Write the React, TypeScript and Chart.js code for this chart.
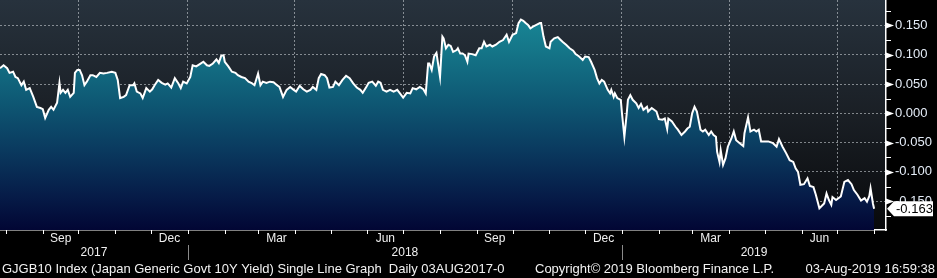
import React, { useEffect, useRef } from "react";
import { Chart, registerables } from "chart.js";
Chart.register(...registerables);

// ---- Data: days since 2018-01-01, and GJGB10 yield (%) ----
const dayOffsets = [
  -158, -155, -152, -150, -147, -145, -143, -140, -138, -136,
  -133, -130, -127, -124, -122, -120, -117, -115, -113, -110,
  -108, -107, -105, -103, -101, -99, -96, -95, -93, -91,
  -89, -87, -85, -82, -80, -77, -74, -71, -68, -64,
  -61, -59, -57, -54, -52, -49, -46, -45, -43, -40,
  -38, -35, -32, -30, -28, -25, -22, -19, -17, -14,
  -11, -8, -6, -4, -1, 2, 4, 7, 10, 13,
  16, 18, 21, 24, 26, 28, 30, 31, 34, 37,
  40, 42, 45, 48, 51, 54, 56, 59, 61, 63,
  66, 69, 72, 75, 77, 80, 83, 86, 89, 91,
  94, 97, 100, 103, 105, 108, 110, 112, 115, 117,
  119, 122, 124, 127, 130, 133, 136, 139, 142, 145,
  147, 150, 152, 155, 158, 160, 162, 164, 167, 170,
  173, 176, 178, 181, 184, 187, 189, 192, 195, 198,
  200, 202, 203, 205, 207, 209, 212, 214, 215,
  217, 219, 221, 223, 226, 227, 229, 231, 233, 235,
  236, 239, 242, 245, 247, 249, 251, 254, 256, 259,
  262, 265, 268, 270, 273, 276, 278, 280, 282, 284,
  286, 288, 291, 293, 296, 297, 299, 301, 304, 305,
  308, 311, 313, 315, 318, 321, 324, 326, 329, 332,
  334, 337, 339, 342, 344, 346, 348, 350, 353, 355,
  356, 358, 359, 361, 364, 365, 367, 369, 370, 372,
  374, 377, 379, 381, 383, 386, 387, 390, 392, 394,
  396, 399, 401, 403, 404, 407, 410, 412, 415, 418,
  420, 422, 424, 426, 428, 431, 433, 435, 438, 440,
  442, 444, 445, 447, 448, 450, 452, 454, 457, 459,
  461, 464, 467, 468, 471, 473, 476, 478, 480, 482,
  485, 488, 492, 495, 497, 500, 503, 506, 509, 511,
  513, 515, 518, 521, 523, 526, 528, 531, 535, 537,
  539, 541, 542, 545, 549, 552, 555, 558, 560, 563,
  566, 569, 571, 573, 574, 576, 577,
];

const yields = [
  0.077, 0.082, 0.077, 0.069, 0.071, 0.062, 0.060, 0.048, 0.054, 0.040,
  0.043, 0.028, 0.011, 0.009, 0.007, -0.008, 0.006, 0.011, 0.006, 0.018,
  0.052, 0.035, 0.040, 0.035, 0.040, 0.028, 0.035, 0.069, 0.074, 0.074,
  0.065, 0.048, 0.054, 0.065, 0.065, 0.062, 0.069, 0.068, 0.069, 0.071,
  0.069, 0.057, 0.026, 0.028, 0.031, 0.048, 0.048, 0.051, 0.037, 0.034,
  0.026, 0.043, 0.037, 0.041, 0.048, 0.057, 0.052, 0.049, 0.051, 0.044,
  0.060, 0.051, 0.043, 0.054, 0.051, 0.062, 0.082, 0.080, 0.084, 0.088,
  0.082, 0.081, 0.085, 0.092, 0.086, 0.098, 0.099, 0.088, 0.080, 0.071,
  0.069, 0.065, 0.062, 0.060, 0.054, 0.051, 0.048, 0.068, 0.048, 0.054,
  0.052, 0.054, 0.053, 0.048, 0.045, 0.028, 0.040, 0.045, 0.040, 0.037,
  0.047, 0.041, 0.037, 0.040, 0.045, 0.040, 0.060, 0.067, 0.065, 0.060,
  0.044, 0.045, 0.054, 0.048, 0.057, 0.064, 0.060, 0.051, 0.044, 0.040,
  0.035, 0.045, 0.052, 0.054, 0.047, 0.054, 0.052, 0.040, 0.037, 0.040,
  0.037, 0.040, 0.035, 0.027, 0.035, 0.034, 0.043, 0.041, 0.045, 0.041,
  0.034, 0.085, 0.085, 0.074, 0.097, 0.103, 0.062, 0.131, 0.128,
  0.111, 0.117, 0.115, 0.105, 0.108, 0.111, 0.102, 0.102, 0.099, 0.088,
  0.102, 0.101, 0.099, 0.111, 0.111, 0.122, 0.114, 0.117, 0.114, 0.117,
  0.122, 0.125, 0.134, 0.122, 0.134, 0.137, 0.154, 0.160, 0.158, 0.154,
  0.151, 0.145, 0.149, 0.151, 0.154, 0.154, 0.131, 0.114, 0.111, 0.122,
  0.128, 0.130, 0.126, 0.122, 0.117, 0.111, 0.107, 0.101, 0.097, 0.091,
  0.097, 0.096, 0.088, 0.074, 0.060, 0.051, 0.057, 0.054, 0.040, 0.034,
  0.040, 0.028, 0.034, 0.026, 0.023, 0.000, -0.040, 0.000, 0.023, 0.031,
  0.023, 0.017, 0.009, 0.016, 0.006, 0.011, 0.003, 0.009, 0.006, 0.003,
  -0.010, -0.011, -0.009, -0.027, -0.009, -0.014, -0.023, -0.028, -0.037, -0.031,
  -0.026, -0.023, 0.000, 0.011, 0.003, -0.028, -0.031, -0.028, -0.037, -0.031,
  -0.037, -0.040, -0.066, -0.083, -0.063, -0.088, -0.077, -0.057, -0.043, -0.031,
  -0.046, -0.051, -0.056, -0.034, -0.007, -0.031, -0.028, -0.031, -0.028, -0.048,
  -0.048, -0.048, -0.051, -0.057, -0.044, -0.057, -0.068, -0.080, -0.083, -0.094,
  -0.100, -0.122, -0.121, -0.111, -0.124, -0.126, -0.139, -0.162, -0.154, -0.137,
  -0.148, -0.156, -0.143, -0.148, -0.142, -0.117, -0.114, -0.121, -0.131, -0.139,
  -0.149, -0.145, -0.151, -0.141, -0.128, -0.154, -0.163,
];

const yTickValues = [-0.15, -0.1, -0.05, 0, 0.05, 0.1, 0.15];
const monthLabelList: [number, number, string][] = [
  [2017, 9, "Sep"], [2017, 12, "Dec"], [2018, 3, "Mar"], [2018, 6, "Jun"],
  [2018, 9, "Sep"], [2018, 12, "Dec"], [2019, 3, "Mar"], [2019, 6, "Jun"],
];
const yearLabels = [2017, 2018, 2019];
const lastValue = -0.163;
const footerLeft = "GJGB10 Index (Japan Generic Govt 10Y Yield) Single Line Graph  Daily 03AUG2017-0";
const footerMid = "Copyright\u00A9 2019 Bloomberg Finance L.P.";
const footerRight = "03-Aug-2019 16:59:38";

const X_MIN = -158;
const X_MAX = 587;
const Y_MIN = -0.1992;
const Y_MAX = 0.1934;

const W = 937;
const H = 278;
const FONT = '"Liberation Sans", Arial, sans-serif';

const dayNum = (y: number, m: number, d = 1) =>
  Math.round((Date.UTC(y, m - 1, d) - Date.UTC(2018, 0, 1)) / 864e5);

const monthStarts: number[] = [];
const quarterStarts: number[] = [];
for (let y = 2017; y <= 2019; y++) {
  for (let m = 1; m <= 12; m++) {
    const v = dayNum(y, m);
    if (v >= X_MIN && v <= X_MAX) {
      monthStarts.push(v);
      if ((m - 1) % 3 === 0) quarterStarts.push(v);
    }
  }
}

const zeroPad = (s: any) => {
  s.paddingTop = 0;
  s.paddingBottom = 0;
  s.paddingLeft = 0;
  s.paddingRight = 0;
};

const bgPlugin = {
  id: "bbgBackground",
  beforeDraw(chart: any) {
    const { ctx, chartArea: a, width, height } = chart;
    ctx.save();
    ctx.fillStyle = "#000";
    ctx.fillRect(0, 0, width, height);
    const g = ctx.createLinearGradient(0, a.top, 0, a.bottom);
    g.addColorStop(0, "#27323d");
    g.addColorStop(0.5, "#1a1f25");
    g.addColorStop(1, "#08090b");
    ctx.fillStyle = g;
    ctx.fillRect(a.left, a.top, a.right - a.left, a.bottom - a.top);
    ctx.restore();
  },
};

const decoPlugin = {
  id: "bbgDecor",
  afterDraw(chart: any) {
    const { ctx, chartArea: a } = chart;
    const x = chart.scales.x;
    const y = chart.scales.y;
    ctx.save();
    // month tick marks
    ctx.strokeStyle = "#ffffff";
    ctx.lineWidth = 1;
    monthStarts.forEach((d) => {
      const px = Math.round(x.getPixelForValue(d)) + 0.5;
      ctx.beginPath();
      ctx.moveTo(px, a.bottom);
      ctx.lineTo(px, a.bottom + 4);
      ctx.stroke();
    });
    // month labels
    ctx.fillStyle = "#f0f0f0";
    ctx.font = `12px ${FONT}`;
    ctx.textAlign = "center";
    ctx.textBaseline = "middle";
    monthLabelList.forEach(([yr, m, label]) => {
      const s = x.getPixelForValue(dayNum(yr, m));
      const e = x.getPixelForValue(dayNum(yr, m + 1));
      ctx.fillText(label, (s + e) / 2, a.bottom + 9);
    });
    // year labels and separators
    yearLabels.forEach((yr) => {
      const s = x.getPixelForValue(Math.max(X_MIN, dayNum(yr, 1)));
      const e = x.getPixelForValue(Math.min(X_MAX, dayNum(yr + 1, 1)));
      ctx.fillStyle = "#f0f0f0";
      ctx.fillText(String(yr), (s + e) / 2, a.bottom + 23);
      const js = dayNum(yr, 1);
      if (js > X_MIN) {
        const px = Math.round(x.getPixelForValue(js)) + 0.5;
        ctx.strokeStyle = "#8a8a8a";
        ctx.beginPath();
        ctx.moveTo(px, a.bottom + 15);
        ctx.lineTo(px, a.bottom + 30);
        ctx.stroke();
      }
    });
    // y axis minor ticks and major arrows
    ctx.strokeStyle = "#ffffff";
    ctx.fillStyle = "#ffffff";
    for (let k = -7; k <= 7; k++) {
      const v = k * 0.025;
      const py = Math.round(y.getPixelForValue(v)) + 0.5;
      if (py < a.top || py > a.bottom) continue;
      if (k % 2 !== 0) {
        ctx.beginPath();
        ctx.moveTo(a.right, py);
        ctx.lineTo(a.right + 5, py);
        ctx.stroke();
      } else {
        ctx.beginPath();
        ctx.moveTo(a.right, py - 3);
        ctx.lineTo(a.right + 8, py);
        ctx.lineTo(a.right, py + 3);
        ctx.closePath();
        ctx.fill();
      }
    }
    // last value box
    const ly = y.getPixelForValue(lastValue);
    ctx.fillStyle = "#ffffff";
    ctx.beginPath();
    ctx.moveTo(a.right + 1, ly);
    ctx.lineTo(a.right + 8, ly - 7.5);
    ctx.lineTo(W - 4, ly - 7.5);
    ctx.lineTo(W - 4, ly + 7.5);
    ctx.lineTo(a.right + 8, ly + 7.5);
    ctx.closePath();
    ctx.fill();
    ctx.fillStyle = "#000000";
    ctx.font = `13px ${FONT}`;
    ctx.textAlign = "left";
    ctx.textBaseline = "middle";
    ctx.fillText(lastValue.toFixed(3), a.right + 10, ly + 0.5);
    // footer
    ctx.fillStyle = "#f2f2f2";
    ctx.font = `13px ${FONT}`;
    ctx.textBaseline = "middle";
    ctx.textAlign = "left";
    ctx.fillText(footerLeft, 2, 269);
    ctx.fillText(footerMid, 535, 269);
    ctx.textAlign = "right";
    ctx.fillText(footerRight, W - 2, 269);
    ctx.restore();
  },
};

export default function App() {
  const ref = useRef<HTMLCanvasElement>(null);
  useEffect(() => {
    document.body.style.margin = "0";
    document.body.style.background = "#000";
    const canvas = ref.current as HTMLCanvasElement;
    const n = Math.min(dayOffsets.length, yields.length);
    const points = [] as { x: number; y: number }[];
    for (let i = 0; i < n; i++) points.push({ x: dayOffsets[i], y: yields[i] });
    const chart = new Chart(canvas, {
      type: "line",
      data: {
        datasets: [
          {
            data: points,
            borderColor: "#ffffff",
            borderWidth: 2,
            pointRadius: 0,
            tension: 0,
            fill: "start",
            backgroundColor: (c: any) => {
              const ch = c.chart;
              const area = ch.chartArea;
              if (!area) return "rgba(0,0,0,0)";
              const g = ch.ctx.createLinearGradient(0, area.top, 0, area.bottom);
              g.addColorStop(0, "#1a8f9d");
              g.addColorStop(0.2, "#15788a");
              g.addColorStop(0.45, "#0e5773");
              g.addColorStop(0.65, "#0a3a5f");
              g.addColorStop(0.85, "#061c48");
              g.addColorStop(1, "#020634");
              return g;
            },
          },
        ],
      },
      options: {
        animation: false,
        responsive: false,
        events: [],
        layout: { padding: 0, autoPadding: false } as any,
        plugins: { legend: { display: false }, tooltip: { enabled: false } },
        scales: {
          x: {
            type: "linear",
            position: "bottom",
            min: X_MIN,
            max: X_MAX,
            z: 1,
            afterBuildTicks: (s: any) => {
              s.ticks = quarterStarts.map((v) => ({ value: v }));
            },
            afterFit: (s: any) => {
              s.height = 48;
              zeroPad(s);
            },
            ticks: { display: false },
            grid: { color: "rgba(200,205,210,0.6)", lineWidth: 1, drawTicks: false },
            border: { display: true, color: "#ffffff", width: 1.5, dash: [2, 2] },
          },
          y: {
            type: "linear",
            position: "right",
            min: Y_MIN,
            max: Y_MAX,
            z: 1,
            afterBuildTicks: (s: any) => {
              s.ticks = yTickValues.map((v) => ({ value: v }));
            },
            afterFit: (s: any) => {
              s.width = 51;
              zeroPad(s);
            },
            ticks: {
              color: "#e4ecf7",
              font: { family: FONT, size: 13 },
              padding: 9,
              callback: (v: any) => Number(v).toFixed(3),
            },
            grid: { color: "rgba(200,205,210,0.6)", lineWidth: 1, drawTicks: false },
            border: { display: true, color: "#ffffff", width: 1.5, dash: [2, 2] },
          },
        },
      },
      plugins: [bgPlugin, decoPlugin],
    } as any);
    return () => chart.destroy();
  }, []);
  return (
    <div style={{ width: W, height: H, overflow: "hidden" }}>
      <canvas ref={ref} width={W} height={H} style={{ display: "block", width: W, height: H }} />
    </div>
  );
}
